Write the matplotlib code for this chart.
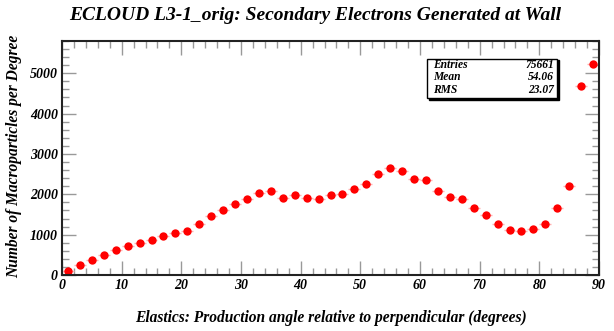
import matplotlib
matplotlib.use("Agg")
import matplotlib.pyplot as plt
from matplotlib.ticker import MultipleLocator
from matplotlib.patches import Rectangle

angles = [1, 3, 5, 7, 9, 11, 13, 15, 17, 19, 21, 23, 25, 27, 29, 31, 33, 35, 37, 39,
          41, 43, 45, 47, 49, 51, 53, 55, 57, 59, 61, 63, 65, 67, 69, 71, 73, 75, 77, 79,
          81, 83, 85, 87, 89]
counts = [107, 240, 364, 488, 612, 727, 801, 860, 975, 1042, 1083, 1257, 1471, 1604, 1753,
          1893, 2026, 2083, 1917, 1976, 1902, 1893, 1980, 2009, 2133, 2265, 2505, 2646, 2572,
          2389, 2356, 2075, 1942, 1877, 1669, 1488, 1273, 1124, 1091, 1133, 1257, 1653, 2199,
          4675, 5228]
stat_labels = ["Entries", "Mean", "RMS"]
stat_values = ["75661", "54.06", "23.07"]

title = "ECLOUD L3-1_orig: Secondary Electrons Generated at Wall"
xlabel = "Elastics: Production angle relative to perpendicular (degrees)"
ylabel = "Number of Macroparticles per Degree"

font = "Liberation Serif"

fig = plt.figure(figsize=(6.14, 3.31), dpi=100)
ax = fig.add_axes([62/614, 1-275/331, (599-62)/614, (275-41)/331])

ax.errorbar(angles, counts, xerr=1, fmt='none', ecolor='#ffb0b0', elinewidth=1, capsize=0)
ax.plot(angles, counts, 'o', color='#ff0000', markersize=6, markeredgewidth=0)

ax.set_xlim(0, 90)
ax.set_ylim(0, 5800)
ax.xaxis.set_major_locator(MultipleLocator(10))
ax.xaxis.set_minor_locator(MultipleLocator(2))
ax.yaxis.set_major_locator(MultipleLocator(1000))
ax.yaxis.set_minor_locator(MultipleLocator(200))
ax.tick_params(which='both', direction='in', top=True, right=True, color='#999999')
ax.tick_params(which='major', length=10, width=1, labelsize=10, pad=3)
ax.tick_params(which='minor', length=5, width=1)
for lab in ax.get_xticklabels() + ax.get_yticklabels():
    lab.set_fontfamily(font)
    lab.set_fontweight('bold')
    lab.set_fontstyle('italic')
for s in ax.spines.values():
    s.set_linewidth(1.5)
    s.set_color('#222222')

ax.set_xlabel(xlabel, fontfamily=font, fontweight='bold', fontstyle='italic', fontsize=11.2, labelpad=13)
ax.set_ylabel(ylabel, fontfamily=font, fontweight='bold', fontstyle='italic', fontsize=11.2)
ax.yaxis.set_label_coords(-0.0745, 0.505)
fig.text(315/614, 1-16/331, title, ha='center', va='center', fontfamily=font,
         fontweight='bold', fontstyle='italic', fontsize=14)

# stats box
bx0, by0, bx1, by1 = 427/614, 1-98/331, 557/614, 1-59/331
fig.patches.append(Rectangle((bx0 + 1.5/614, by0 - 1.5/331), bx1-bx0, by1-by0, transform=fig.transFigure,
                             facecolor='black', edgecolor='black', zorder=5))
fig.patches.append(Rectangle((bx0, by0), bx1-bx0, by1-by0, transform=fig.transFigure,
                             facecolor='white', edgecolor='black', linewidth=1, zorder=6))
rows_y = [65, 77.5, 90]
for lab, val, yy in zip(stat_labels, stat_values, rows_y):
    fig.text(433/614, 1-yy/331, lab, ha='left', va='center', fontfamily=font,
             fontweight='bold', fontstyle='italic', fontsize=8.3, zorder=7)
    fig.text(554/614, 1-yy/331, val, ha='right', va='center', fontfamily=font,
             fontweight='bold', fontstyle='italic', fontsize=8.3, zorder=7)

fig.savefig("out.png", dpi=100)
